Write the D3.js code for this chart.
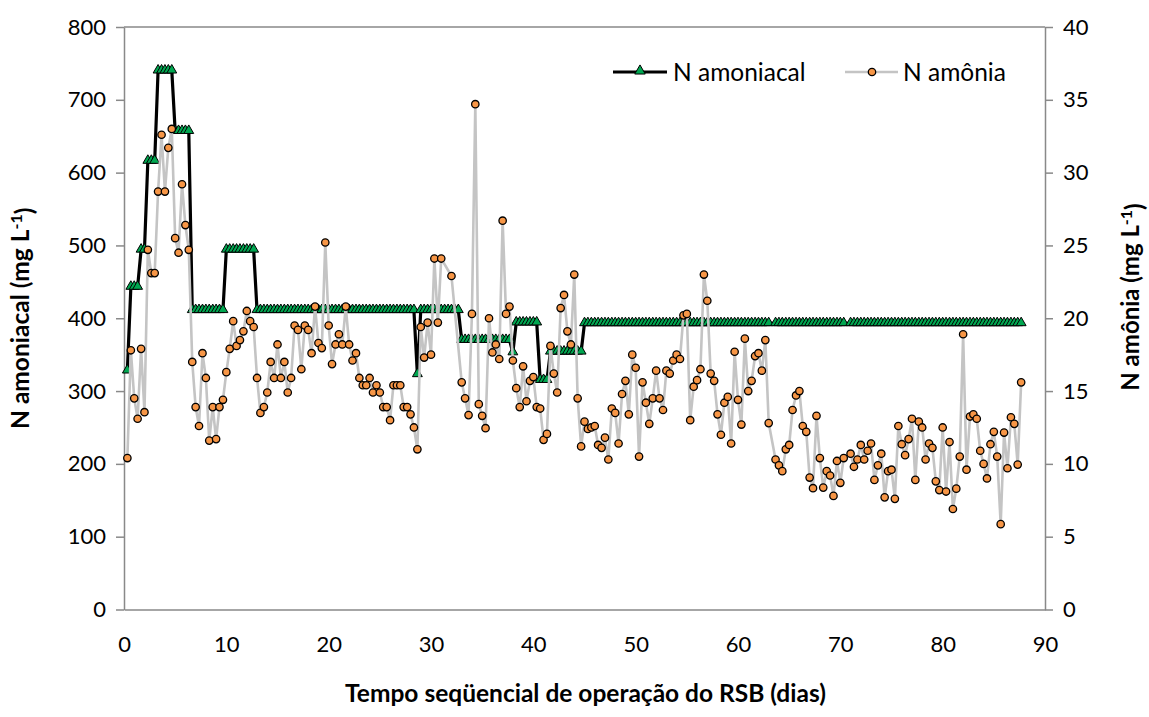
<!DOCTYPE html>
<html>
<head>
<meta charset="utf-8">
<script src="https://cdn.jsdelivr.net/npm/d3@7"></script>
<style>
  html, body { margin: 0; padding: 0; background: #fff; }
  svg { display: block; font-family: "Lato", "Open Sans", sans-serif; }
</style>
</head>
<body>
<svg id="chart" width="1149" height="717"></svg>
<script>
// ---------------- DATA ----------------
const xTicks = [0, 10, 20, 30, 40, 50, 60, 70, 80, 90];
const leftTicks = [0, 100, 200, 300, 400, 500, 600, 700, 800];
const rightTicks = [0, 5, 10, 15, 20, 25, 30, 35, 40];

// N amoniacal (mg/L) – primary axis
const amonDays = [
  0.33, 0.67,
  1, 1.33, 1.67, 2, 2.33, 2.67, 3, 3.33, 3.67, 4, 4.33, 4.67, 5, 5.33, 5.67, 6, 6.33, 6.67,
  7, 7.33, 7.67, 8, 8.33, 8.67, 9, 9.33, 9.67, 10, 10.33, 10.67, 11, 11.33, 11.67, 12, 12.33, 12.67,
  13, 13.33, 13.67, 14, 14.33, 14.67, 15, 15.33, 15.67, 16, 16.33, 16.67, 17, 17.33, 17.67,
  18, 18.33, 18.67, 19, 19.33, 19.67, 20, 20.33, 20.67, 21, 21.33, 21.67, 22, 22.33, 22.67,
  23, 23.33, 23.67, 24, 24.33, 24.67, 25, 25.33, 25.67, 26, 26.33, 26.67, 27, 27.33, 27.67,
  28, 28.33, 28.67, 29, 29.33, 29.67, 30, 30.33, 30.67, 31, 31.33, 31.67, 32, 32.33, 32.67,
  33, 33.33, 33.67, 34, 34.33, 34.67, 35, 35.33, 35.67, 36, 36.33, 36.67, 37, 37.33, 37.67,
  38, 38.33, 38.67, 39, 39.33, 39.67, 40, 40.33, 40.67, 41, 41.33, 41.67, 42, 42.33, 42.67,
  43, 43.33, 43.67, 44, 44.33, 44.67, 45, 45.33, 45.67, 46, 46.33, 46.67, 47, 47.33, 47.67,
  48, 48.33, 48.67, 49, 49.33, 49.67, 50, 50.33, 50.67, 51, 51.33, 51.67, 52, 52.33, 52.67,
  53, 53.33, 53.67, 54, 54.33, 54.67, 55, 55.33, 55.67, 56, 56.33, 56.67, 57, 57.33, 57.67,
  58, 58.33, 58.67, 59, 59.33, 59.67, 60, 60.33, 60.67, 61, 61.33, 61.67, 62, 62.33, 62.67,
  63, 63.67, 64, 64.33, 64.67, 65, 65.33, 65.67, 66, 66.33, 66.67, 67, 67.33, 67.67,
  68, 68.33, 68.67, 69, 69.33, 69.67, 70, 70.33, 71, 71.33, 71.67, 72, 72.33, 72.67,
  73, 73.33, 73.67, 74, 74.33, 74.67, 75, 75.33, 75.67, 76, 76.33, 76.67, 77, 77.33, 77.67,
  78, 78.33, 78.67, 79, 79.33, 79.67, 80, 80.33, 80.67, 81, 81.33, 81.67, 82, 82.33, 82.67,
  83, 83.33, 83.67, 84, 84.33, 84.67, 85, 85.33, 85.67, 86, 86.33, 86.67, 87, 87.33, 87.67
];
const amonValues = [
  328, 443,
  443, 443, 494, 494, 616, 616, 616, 740, 740, 740, 740, 740, 657, 657, 657, 657, 657, 411,
  411, 411, 411, 411, 411, 411, 411, 411, 411, 494, 494, 494, 494, 494, 494, 494, 494, 494,
  411, 411, 411, 411, 411, 411, 411, 411, 411, 411, 411, 411, 411, 411, 411,
  411, 411, 411, 411, 411, 411, 411, 411, 411, 411, 411, 411, 411, 411, 411,
  411, 411, 411, 411, 411, 411, 411, 411, 411, 411, 411, 411, 411, 411, 411,
  411, 411, 323, 411, 411, 411, 411, 411, 411, 411, 411, 411, 411, 411, 411,
  370, 370, 370, 370, 370, 370, 370, 370, 370, 370, 370, 370, 370, 370, 370,
  353, 394, 394, 394, 394, 394, 394, 394, 315, 315, 315, 354, 354, 354, 354,
  354, 354, 354, 354, 354, 354, 393, 393, 393, 393, 393, 393, 393, 393, 393,
  393, 393, 393, 393, 393, 393, 393, 393, 393, 393, 393, 393, 393, 393, 393,
  393, 393, 393, 393, 393, 393, 393, 393, 393, 393, 393, 393, 393, 393, 393,
  393, 393, 393, 393, 393, 393, 393, 393, 393, 393, 393, 393, 393, 393, 393,
  393, 393, 393, 393, 393, 393, 393, 393, 393, 393, 393, 393, 393, 393,
  393, 393, 393, 393, 393, 393, 393, 393, 393, 393, 393, 393, 393, 393,
  393, 393, 393, 393, 393, 393, 393, 393, 393, 393, 393, 393, 393, 393, 393,
  393, 393, 393, 393, 393, 393, 393, 393, 393, 393, 393, 393, 393, 393, 393,
  393, 393, 393, 393, 393, 393, 393, 393, 393, 393, 393, 393, 393, 393, 393
];

// N amônia (mg/L) – secondary axis
const amoniaDays = [
  0.33, 0.67, 1, 1.33, 1.67, 2, 2.33, 2.67, 3, 3.33,
  3.67, 4, 4.33, 4.67, 5, 5.33, 5.67, 6, 6.33, 6.67,
  7, 7.33, 7.67, 8, 8.33, 8.67, 9, 9.33, 9.67, 10,
  10.33, 10.67, 11, 11.33, 11.67, 12, 12.33, 12.67, 13, 13.33,
  13.67, 14, 14.33, 14.67, 15, 15.33, 15.67, 16, 16.33, 16.67,
  17, 17.33, 17.67, 18, 18.33, 18.67, 19, 19.33, 19.67, 20,
  20.33, 20.67, 21, 21.33, 21.67, 22, 22.33, 22.67, 23, 23.33,
  23.67, 24, 24.33, 24.67, 25, 25.33, 25.67, 26, 26.33, 26.67,
  27, 27.33, 27.67, 28, 28.33, 28.67, 29, 29.33, 29.67, 30,
  30.33, 30.67, 31, 32, 33, 33.33, 33.67, 34, 34.33, 34.67,
  35, 35.33, 35.67, 36, 36.33, 36.67, 37, 37.33, 37.67, 38,
  38.33, 38.67, 39, 39.33, 39.67, 40, 40.33, 40.67, 41, 41.33,
  41.67, 42, 42.33, 42.67, 43, 43.33, 43.67, 44, 44.33, 44.67,
  45, 45.33, 45.67, 46, 46.33, 46.67, 47, 47.33, 47.67, 48,
  48.33, 48.67, 49, 49.33, 49.67, 50, 50.33, 50.67, 51, 51.33,
  51.67, 52, 52.33, 52.67, 53, 53.33, 53.67, 54, 54.33, 54.67,
  55, 55.33, 55.67, 56, 56.33, 56.67, 57, 57.33, 57.67, 58,
  58.33, 58.67, 59, 59.33, 59.67, 60, 60.33, 60.67, 61, 61.33,
  61.67, 62, 62.33, 62.67, 63, 63.67, 64, 64.33, 64.67, 65,
  65.33, 65.67, 66, 66.33, 66.67, 67, 67.33, 67.67, 68, 68.33,
  68.67, 69, 69.33, 69.67, 70, 70.33, 71, 71.33, 71.67, 72,
  72.33, 72.67, 73, 73.33, 73.67, 74, 74.33, 74.67, 75, 75.33,
  75.67, 76, 76.33, 76.67, 77, 77.33, 77.67, 78, 78.33, 78.67,
  79, 79.33, 79.67, 80, 80.33, 80.67, 81, 81.33, 81.67, 82,
  82.33, 82.67, 83, 83.33, 83.67, 84, 84.33, 84.67, 85, 85.33,
  85.67, 86, 86.33, 86.67, 87, 87.33, 87.67
];
const amoniaValues = [
  10.4, 17.8, 14.5, 13.1, 17.9, 13.55, 24.7, 23.1, 23.1, 28.7,
  32.6, 28.7, 31.7, 33.0, 25.5, 24.5, 29.2, 26.4, 24.7, 17.0,
  13.9, 12.6, 17.6, 15.9, 11.6, 13.9, 11.7, 13.9, 14.4, 16.3,
  17.9, 19.8, 18.1, 18.5, 19.1, 20.5, 19.8, 19.4, 15.9, 13.5,
  13.9, 14.9, 17.0, 15.9, 18.2, 15.9, 17.0, 14.9, 15.9, 19.5,
  19.2, 16.5, 19.5, 19.2, 17.6, 20.8, 18.3, 17.95, 25.2, 19.5,
  16.85, 18.2, 18.9, 18.2, 20.8, 18.2, 17.1, 17.6, 15.9, 15.4,
  15.4, 15.9, 14.9, 15.4, 14.9, 13.9, 13.9, 13.0, 15.4, 15.4,
  15.4, 13.9, 13.9, 13.4, 12.5, 11.0, 19.4, 17.3, 19.7, 17.5,
  24.1, 19.7, 24.1, 22.9, 15.6, 14.5, 13.35, 20.3, 34.7, 14.1,
  13.3, 12.45, 20.0, 17.65, 18.2, 17.2, 26.7, 20.3, 20.8, 17.1,
  15.2, 13.9, 16.7, 14.3, 15.7, 15.96, 13.9, 13.8, 11.65, 12.06,
  18.1, 16.2, 14.9, 20.7, 21.6, 19.1, 18.2, 23.0, 14.5, 11.2,
  12.9, 12.4, 12.5, 12.6, 11.3, 11.1, 11.8, 10.3, 13.8, 13.5,
  11.4, 14.8, 15.7, 13.4, 17.5, 16.6, 10.5, 15.6, 14.2, 12.75,
  14.5, 16.4, 14.5, 13.7, 16.4, 16.2, 17.1, 17.5, 17.2, 20.2,
  20.3, 13.0, 15.3, 15.75, 16.5, 23.0, 21.2, 16.2, 15.7, 13.4,
  12.0, 14.2, 14.6, 11.4, 17.7, 14.4, 12.7, 18.6, 15.0, 15.7,
  17.4, 17.6, 16.4, 18.5, 12.8, 10.3, 9.9, 9.5, 11.0, 11.3,
  13.7, 14.7, 15.0, 12.6, 12.2, 9.06, 8.33, 13.3, 10.4, 8.37,
  9.5, 9.2, 7.8, 10.2, 8.7, 10.4, 10.7, 9.8, 10.3, 11.3,
  10.3, 10.9, 11.4, 8.9, 9.9, 10.7, 7.7, 9.5, 9.6, 7.6,
  12.6, 11.35, 10.6, 11.7, 13.1, 8.9, 12.9, 12.5, 10.3, 11.4,
  11.1, 8.8, 8.2, 12.5, 8.1, 11.5, 6.9, 8.3, 10.5, 18.9,
  9.6, 13.25, 13.4, 13.1, 10.9, 10.0, 9.0, 11.35, 12.2, 10.5,
  5.86, 12.15, 9.7, 13.2, 12.75, 9.95, 15.6
];

const seriesNames = ["N amoniacal", "N amônia"];

// ---------------- CHART ----------------
const svg = d3.select("#chart");
const pLeft = 124, pRight = 1045, pTop = 27, pBottom = 609.5;
const axisColor = "#898989";
const TICK_FONT = 22;
const BIG_FONT = 24.5;

const x = d3.scaleLinear().domain([0, 90]).range([pLeft, pRight]);
const yL = d3.scaleLinear().domain([0, 800]).range([pBottom, pTop]);
const yR = d3.scaleLinear().domain([0, 40]).range([pBottom, pTop]);

// top border
svg.append("line").attr("x1", pLeft).attr("x2", pRight).attr("y1", pTop).attr("y2", pTop)
  .attr("stroke", axisColor).attr("stroke-width", 1.5);

function styleAxis(g) {
  g.select(".domain").attr("stroke", axisColor).attr("stroke-width", 1.5);
  g.selectAll(".tick line").attr("stroke", axisColor).attr("stroke-width", 1.5);
  g.selectAll(".tick text").attr("fill", "#000").style("font-size", TICK_FONT + "px")
    .style("font-family", "Lato, sans-serif");
}

const gL = svg.append("g").attr("transform", `translate(${pLeft},0)`)
  .call(d3.axisLeft(yL).tickValues(leftTicks).tickSize(8).tickPadding(10).tickSizeOuter(0));
styleAxis(gL);
const gR = svg.append("g").attr("transform", `translate(${pRight},0)`)
  .call(d3.axisRight(yR).tickValues(rightTicks).tickSize(8).tickPadding(10).tickSizeOuter(0));
styleAxis(gR);
const gX = svg.append("g").attr("transform", `translate(0,${pBottom})`)
  .call(d3.axisBottom(x).tickValues(xTicks).tickSize(0).tickPadding(27).tickSizeOuter(0));
styleAxis(gX);

const amonData = amonDays.map((d, i) => ({ x: d, y: amonValues[i] }));
const amoniaData = amoniaDays.map((d, i) => ({ x: d, y: amoniaValues[i] }));

// Series 1: N amoniacal
svg.append("path").datum(amonData)
  .attr("fill", "none").attr("stroke", "#000").attr("stroke-width", 3.2)
  .attr("stroke-linejoin", "round")
  .attr("d", d3.line().x(d => x(d.x)).y(d => yL(d.y)));

const tri = d3.symbol().type(d3.symbolTriangle).size(42);
svg.append("g").selectAll("path").data(amonData).join("path")
  .attr("d", tri)
  .attr("transform", d => `translate(${x(d.x)},${yL(d.y) - 0.5})`)
  .attr("fill", "#00a650").attr("stroke", "#000").attr("stroke-width", 1);

// Series 2: N amônia
svg.append("path").datum(amoniaData)
  .attr("fill", "none").attr("stroke", "#c4c4c4").attr("stroke-width", 2.6)
  .attr("stroke-linejoin", "round")
  .attr("d", d3.line().x(d => x(d.x)).y(d => yR(d.y)));

svg.append("g").selectAll("circle").data(amoniaData).join("circle")
  .attr("cx", d => x(d.x)).attr("cy", d => yR(d.y)).attr("r", 3.7)
  .attr("fill", "#f79646").attr("stroke", "#000").attr("stroke-width", 1.3);

// Legend
const lg = svg.append("g");
lg.append("line").attr("x1", 613).attr("x2", 667).attr("y1", 72).attr("y2", 72)
  .attr("stroke", "#000").attr("stroke-width", 3.2);
lg.append("path").attr("d", d3.symbol().type(d3.symbolTriangle).size(48))
  .attr("transform", "translate(640,71)").attr("fill", "#00a650").attr("stroke", "#000").attr("stroke-width", 1);
lg.append("text").attr("x", 673).attr("y", 72).attr("dy", "0.35em")
  .style("font-size", BIG_FONT + "px").text(seriesNames[0]);
lg.append("line").attr("x1", 845).attr("x2", 898).attr("y1", 72).attr("y2", 72)
  .attr("stroke", "#c4c4c4").attr("stroke-width", 2.6);
lg.append("circle").attr("cx", 872).attr("cy", 72).attr("r", 3.7)
  .attr("fill", "#f79646").attr("stroke", "#000").attr("stroke-width", 1.3);
lg.append("text").attr("x", 903).attr("y", 72).attr("dy", "0.35em")
  .style("font-size", BIG_FONT + "px").text(seriesNames[1]);

// Axis titles
const leftTitle = svg.append("text")
  .attr("transform", `translate(29,${(pTop + pBottom) / 2}) rotate(-90)`)
  .attr("text-anchor", "middle").style("font-size", BIG_FONT + "px").style("font-weight", "bold");
leftTitle.append("tspan").text("N amoniacal (mg L");
leftTitle.append("tspan").attr("dy", "-0.45em").style("font-size", "16px").text("-1");
leftTitle.append("tspan").attr("dy", "0.45em").text(")");

const rightTitle = svg.append("text")
  .attr("transform", `translate(1139,297) rotate(-90)`)
  .attr("text-anchor", "middle").style("font-size", "24px").style("font-weight", "bold");
rightTitle.append("tspan").text("N amônia (mg L");
rightTitle.append("tspan").attr("dy", "-0.45em").style("font-size", "16px").text("-1");
rightTitle.append("tspan").attr("dy", "0.45em").text(")");

svg.append("text").attr("x", (pLeft + pRight) / 2 + 1).attr("y", 702)
  .attr("text-anchor", "middle").style("font-size", BIG_FONT + "px").style("font-weight", "bold")
  .text("Tempo seqüencial de operação do RSB (dias)");
</script>
</body>
</html>
